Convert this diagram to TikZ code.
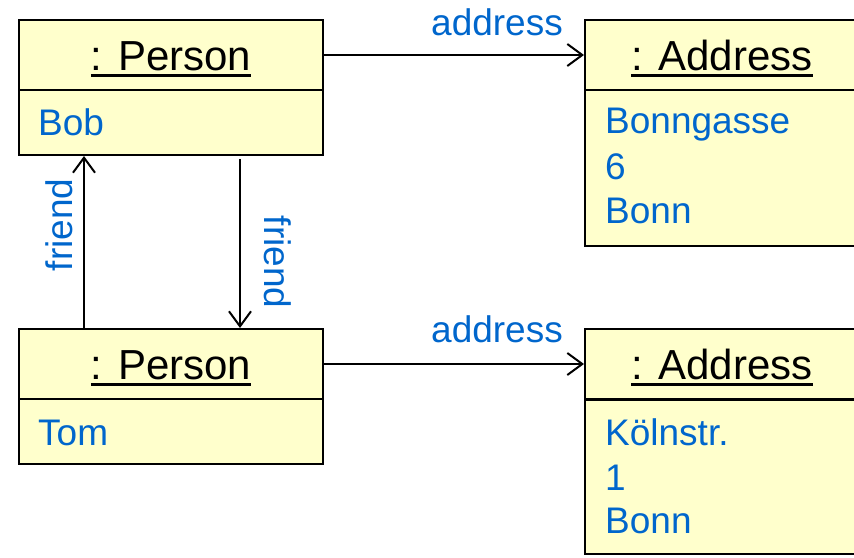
\documentclass[tikz,border=0pt]{standalone}
\usepackage{fontspec}
\setmainfont{Liberation Sans}
\usetikzlibrary{arrows.meta}
\definecolor{boxfill}{HTML}{FFFFCC}
\definecolor{txtblue}{HTML}{0066CC}
\newcommand\myul[1]{\setbox0\hbox{#1}\rlap{\rule[-6pt]{\wd0}{2.6pt}}\box0}
\tikzset{
  objhead/.style={draw=black, line width=2pt, fill=boxfill, anchor=north west, inner sep=0pt,
    minimum height=70pt, text height=31pt, text depth=0pt, font=\fontsize{42}{48}\selectfont},
  objbody/.style={draw=black, line width=2pt, fill=boxfill, anchor=north west, inner sep=0pt},
  attr/.style={anchor=base west, inner sep=0pt, text=txtblue, font=\fontsize{37}{44}\selectfont},
  rolelbl/.style={inner sep=0pt, text=txtblue, font=\fontsize{37}{44}\selectfont},
  arr/.style={line width=2pt, -{Straight Barb[length=15pt, width=22pt, line width=2pt]}},
  plain/.style={line width=2pt}
}
\begin{document}
\begin{tikzpicture}[x=1pt, y=-1pt]
\useasboundingbox (0,0) rectangle (854,557);
\clip (0,0) rectangle (854,557);
% Bob
\node[objbody, minimum width=304pt, minimum height=65pt] (bobB) at (18,89) {};
\node[objhead, minimum width=304pt] (bobH) at (18,19) {\myul{: Person}};
\node[attr] (bobA) at (38,135) {Bob};
% Tom
\node[objbody, minimum width=304pt, minimum height=65pt] (tomB) at (18,398) {};
\node[objhead, minimum width=304pt] (tomH) at (18,328) {\myul{: Person}};
\node[attr] (tomA) at (38,445) {Tom};
% Address 1
\node[objbody, minimum width=274pt, minimum height=156pt] (ad1B) at (584,89) {};
\node[objhead, minimum width=274pt] (ad1H) at (584,19) {\myul{: Address}};
\node[attr] (ad1a) at (605,133) {Bonngasse};
\node[attr] (ad1b) at (605,179) {6};
\node[attr] (ad1c) at (605,223) {Bonn};
% Address 2
\node[objbody, minimum width=274pt, minimum height=154pt] (ad2B) at (584,399) {};
\node[objhead, minimum width=274pt] (ad2H) at (584,328) {\myul{: Address}};
\node[attr] (ad2a) at (605,445) {Kölnstr.};
\node[attr] (ad2b) at (605,490) {1};
\node[attr] (ad2c) at (605,533) {Bonn};
% address links
\draw[arr] (bobH.east) -- (ad1H.west);
\node[rolelbl, anchor=base] (lblA1) at (497,35) {address};
\draw[arr] (tomH.east) -- (ad2H.west);
\node[rolelbl, anchor=base] (lblA2) at (497,342) {address};
% friend links
\draw[arr] ([xshift=66pt]tomH.north west) -- ([xshift=66pt]bobB.south west);
\node[rolelbl, rotate=90, anchor=base] (lblF1) at (72,225) {friend};
\draw[arr] ([xshift=222pt, yshift=-3pt]bobB.south west) -- ([xshift=222pt]tomH.north west);
\node[rolelbl, rotate=-90, anchor=base] (lblF2) at (264,262) {friend};
\end{tikzpicture}
\end{document}
